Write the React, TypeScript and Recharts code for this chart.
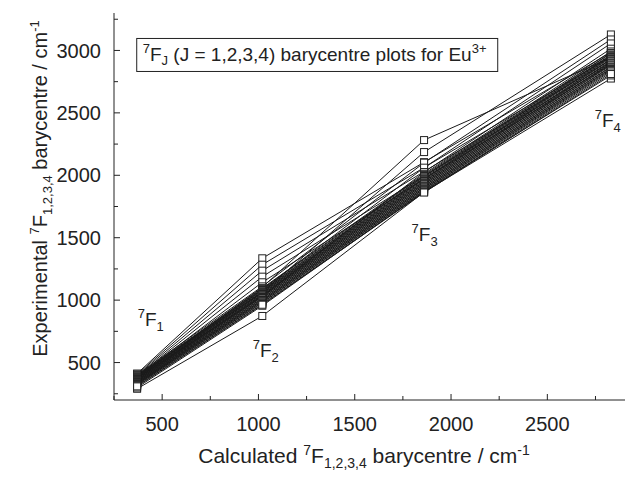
import React from "react";
import {
  ComposedChart,
  Line,
  Scatter,
  XAxis,
  YAxis,
  Label,
  ReferenceDot,
} from "recharts";

// calculated barycentres of 7F1..7F4 (cm-1)
const calculated = [370, 1020, 1860, 2830];

// experimental barycentres, one row per compound (7F1, 7F2, 7F3, 7F4)
const experimental: number[][] = [
  [412, 1335, 2105, 2985],
  [405, 1284, 2062, 2950],
  [398, 1236, 2030, 2926],
  [392, 1188, 1995, 2905],
  [386, 1143, 1972, 2888],
  [380, 1103, 2282, 2942],
  [395, 1063, 2186, 3128],
  [402, 1110, 2101, 3088],
  [388, 1085, 2061, 3056],
  [375, 1031, 2026, 3014],
  [290, 873, 1865, 2775],
  [300, 955, 1870, 2800],
  [396, 1096, 2012, 2992],
  [390, 1090, 2003, 2980],
  [386, 1081, 1994, 2976],
  [381, 1076, 1989, 2966],
  [379, 1069, 1981, 2961],
  [374, 1066, 1973, 2954],
  [371, 1059, 1969, 2947],
  [369, 1056, 1961, 2941],
  [364, 1049, 1954, 2931],
  [361, 1045, 1949, 2926],
  [359, 1039, 1941, 2917],
  [354, 1036, 1937, 2911],
  [351, 1029, 1929, 2901],
  [349, 1025, 1926, 2896],
  [344, 1017, 1917, 2887],
  [341, 1013, 1913, 2881],
  [339, 1005, 1904, 2871],
  [334, 1001, 1901, 2866],
  [331, 994, 1893, 2857],
  [329, 991, 1889, 2851],
  [324, 983, 1881, 2843],
  [321, 978, 1876, 2834],
  [314, 969, 1867, 2823],
  [309, 963, 1862, 2811],
];

const xTicks = [250, 500, 750, 1000, 1250, 1500, 1750, 2000, 2250, 2500, 2750];
const yTicks = [250, 500, 750, 1000, 1250, 1500, 1750, 2000, 2250, 2500, 2750, 3000, 3250];

// where the term labels sit, in data units: [x, y, J]
const termLabels: [number, number, string][] = [
  [373, 790, "1"],
  [970, 542, "2"],
  [1795, 1471, "3"],
  [2746, 2384, "4"],
];

const FONT = "'Liberation Sans', Arial, Helvetica, sans-serif";

const rows = calculated.map((x, i) => {
  const row: Record<string, number> = { x };
  experimental.forEach((s, k) => {
    row["s" + k] = s[i];
  });
  return row;
});

const points = experimental.flatMap((s) => s.map((y, i) => ({ x: calculated[i], y })));

const tickText = { fontFamily: FONT, fontSize: 20, fill: "#222" };

const BottomTick = (props: any) => {
  const { x, y, payload } = props;
  const v = payload.value;
  const major = v % 500 === 0;
  return (
    <g>
      <line x1={x} x2={x} y1={y} y2={y - (major ? 6 : 4)} stroke="#222" />
      {major && v >= 500 && v <= 2500 && (
        <text x={x} y={y + 31} textAnchor="middle" {...tickText}>
          {v}
        </text>
      )}
    </g>
  );
};

const TopTick = (props: any) => {
  const { x, y, payload } = props;
  const major = payload.value % 500 === 0;
  return <line x1={x} x2={x} y1={y} y2={y + (major ? 6 : 4)} stroke="#222" />;
};

const LeftTick = (props: any) => {
  const { x, y, payload } = props;
  const v = payload.value;
  const major = v % 500 === 0;
  return (
    <g>
      <line x1={x} x2={x + (major ? 6 : 4)} y1={y} y2={y} stroke="#222" />
      {major && v >= 500 && v <= 3000 && (
        <text x={x - 13} y={y} dy="0.36em" textAnchor="end" {...tickText}>
          {v}
        </text>
      )}
    </g>
  );
};

const RightTick = (props: any) => {
  const { x, y, payload } = props;
  const major = payload.value % 500 === 0;
  return <line x1={x} x2={x - (major ? 6 : 4)} y1={y} y2={y} stroke="#222" />;
};

const XTitle = (props: any) => {
  const vb = props.viewBox;
  return (
    <text
      x={vb.x + vb.width / 2 - 10}
      y={vb.y + 63}
      textAnchor="middle"
      fontFamily={FONT}
      fontSize={21}
      fill="#222"
    >
      Calculated{" "}
      <tspan fontSize={14} dy={-8}>7</tspan>
      <tspan dy={8}>F</tspan>
      <tspan fontSize={14} dy={5}>1,2,3,4</tspan>
      <tspan dy={-5}> barycentre / cm</tspan>
      <tspan fontSize={14} dy={-8}>-1</tspan>
    </text>
  );
};

const YTitle = (props: any) => {
  const vb = props.viewBox;
  const cx = vb.x + 39;
  const cy = vb.y + vb.height / 2 - 18;
  return (
    <text
      x={cx}
      y={cy}
      transform={`rotate(-90 ${cx} ${cy})`}
      textAnchor="middle"
      fontFamily={FONT}
      fontSize={20}
      fill="#222"
    >
      Experimental{" "}
      <tspan fontSize={13} dy={-8}>7</tspan>
      <tspan dy={8}>F</tspan>
      <tspan fontSize={13} dy={5}>1,2,3,4</tspan>
      <tspan dy={-5}> barycentre / cm</tspan>
      <tspan fontSize={13} dy={-8}>-1</tspan>
    </text>
  );
};

const Square = (props: any) => {
  const { cx, cy } = props;
  return (
    <rect x={cx - 3.5} y={cy - 3.5} width={7} height={7} fill="#fff" stroke="#222" strokeWidth={1} />
  );
};

const TermLabel = (j: string) => (props: any) => {
  const { cx, cy } = props;
  return (
    <text x={cx} y={cy} fontFamily={FONT} fontSize={19} fill="#222">
      <tspan fontSize={13} dy={-8}>7</tspan>
      <tspan dy={8}>F</tspan>
      <tspan fontSize={13} dy={5}>{j}</tspan>
    </text>
  );
};

const NoteBox = (props: any) => {
  const { cx, cy } = props;
  return (
    <g>
      <rect x={cx} y={cy} width={361} height={33} fill="#fff" stroke="#222" strokeWidth={1} />
      <text x={cx + 6} y={cy + 23} fontFamily={FONT} fontSize={19} fill="#222">
        <tspan fontSize={13} dy={-8}>7</tspan>
        <tspan dy={8}>F</tspan>
        <tspan fontSize={13} dy={4}>J</tspan>
        <tspan dy={-4}> (J = 1,2,3,4) barycentre plots for Eu</tspan>
        <tspan fontSize={13} dy={-8}>3+</tspan>
      </text>
    </g>
  );
};

export default function App() {
  return (
    <div style={{ width: 625, height: 472, overflow: "hidden", background: "#fff" }}>
      <ComposedChart
        width={640}
        height={472}
        data={rows}
        margin={{ top: 5, right: 14, bottom: 0, left: 0 }}
      >
        <XAxis
          dataKey="x"
          type="number"
          domain={[250, 2950]}
          ticks={xTicks}
          interval={0}
          height={80}
          tickSize={0}
          tickMargin={0}
          tick={<BottomTick />}
          axisLine={{ stroke: "#222" }}
          label={<Label content={XTitle} />}
        />
        <XAxis
          xAxisId="top"
          orientation="top"
          dataKey="x"
          type="number"
          domain={[250, 2950]}
          ticks={xTicks}
          interval={0}
          height={0}
          tickSize={0}
          tickMargin={0}
          tick={<TopTick />}
          axisLine={{ stroke: "#222" }}
        />
        <YAxis
          type="number"
          domain={[200, 3300]}
          ticks={yTicks}
          interval={0}
          width={106}
          tickSize={0}
          tickMargin={0}
          tick={<LeftTick />}
          axisLine={{ stroke: "#222" }}
          label={<Label content={YTitle} />}
        />
        <YAxis
          yAxisId="right"
          orientation="right"
          type="number"
          domain={[200, 3300]}
          ticks={yTicks}
          interval={0}
          width={0}
          tickSize={0}
          tickMargin={0}
          tick={<RightTick />}
          axisLine={{ stroke: "#222" }}
        />
        {experimental.map((_, k) => (
          <Line
            key={k}
            dataKey={"s" + k}
            type="linear"
            stroke="#1a1a1a"
            strokeWidth={1}
            dot={false}
            activeDot={false}
            isAnimationActive={false}
          />
        ))}
        <Scatter data={points} dataKey="y" shape={<Square />} isAnimationActive={false} />
        {termLabels.map(([x, y, j]) => (
          <ReferenceDot key={j} x={x} y={y} r={0} shape={TermLabel(j)} />
        ))}
        <ReferenceDot x={368} y={3096} r={0} shape={NoteBox} />
      </ComposedChart>
    </div>
  );
}
